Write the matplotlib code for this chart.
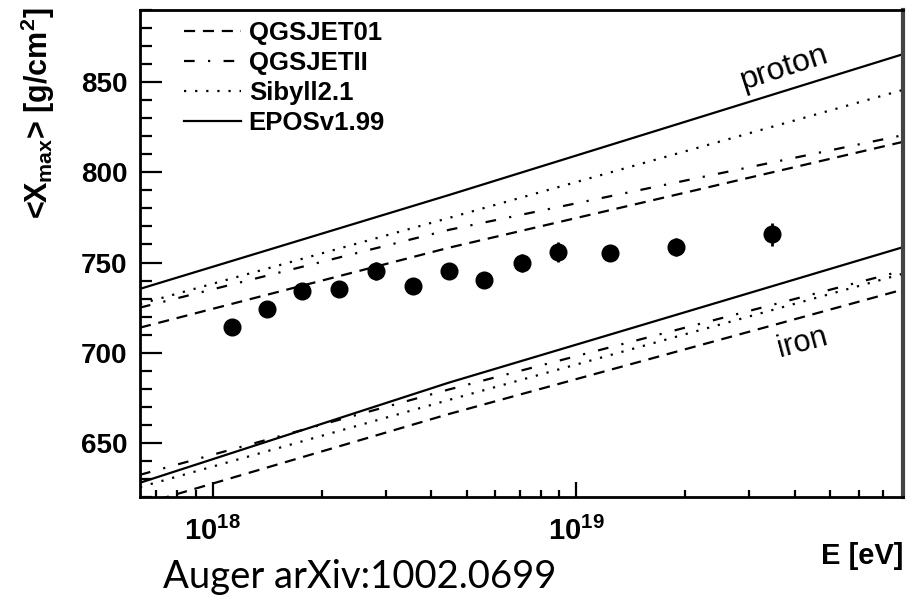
import numpy as np
import matplotlib
matplotlib.use("Agg")
import matplotlib.pyplot as plt
from matplotlib.ticker import FixedLocator, NullFormatter, MultipleLocator

plt.rcParams["mathtext.fontset"] = "custom"
plt.rcParams["mathtext.bf"] = "Liberation Sans:bold"
plt.rcParams["mathtext.rm"] = "Liberation Sans:bold"

# Measured <Xmax> versus energy
energy = [1.13e18, 1.41e18, 1.76e18, 2.23e18, 2.82e18, 3.55e18, 4.47e18,
          5.59e18, 7.08e18, 8.93e18, 1.24e19, 1.89e19, 3.47e19]
xmax = [714.2, 724.3, 734.2, 735.1, 745.3, 736.9, 745.3,
        740.5, 749.9, 755.8, 755.2, 758.5, 765.6]
xmax_err = [3, 3, 3, 3, 5, 3, 4, 4, 5, 5.5, 4, 5, 6.5]

# Model predictions, sampled at log10(E/eV) = 17.8, 18.65, 19.9
model_logE = [17.8, 18.65, 19.9]
models = ["QGSJET01", "QGSJETII", "Sibyll2.1", "EPOSv1.99"]
proton = {
    "QGSJET01": [713.9, 758.2, 816.9],
    "QGSJETII": [725.0, 768.1, 820.6],
    "Sibyll2.1": [727.0, 774.7, 845.7],
    "EPOSv1.99": [735.4, 787.4, 865.5],
}
iron = {
    "QGSJET01": [615.6, 666.0, 735.0],
    "QGSJETII": [632.3, 679.6, 745.5],
    "Sibyll2.1": [625.5, 673.8, 743.8],
    "EPOSv1.99": [627.9, 683.4, 758.5],
}
styles = {
    "QGSJET01": (0, (5, 3.5)),
    "QGSJETII": (0, (4.8, 6, 1, 6)),
    "Sibyll2.1": (0, (1, 4)),
    "EPOSv1.99": "-",
}

fam = ["Liberation Sans", "DejaVu Sans"]
bold = dict(family=fam, weight="bold")

fig = plt.figure(figsize=(9.07, 5.98), dpi=100)
ax = fig.add_axes([140 / 907, 1 - 497 / 598, (903 - 140) / 907, (497 - 10) / 598])
ax.set_xscale("log")
ax.set_xlim(10 ** 17.8, 10 ** 19.9)
ax.set_ylim(620, 890)

E_model = [10.0 ** v for v in model_logE]
handles = []
for m in models:
    (h,) = ax.plot(E_model, proton[m], color="black", lw=1.6, ls=styles[m], label=m)
    ax.plot(E_model, iron[m], color="black", lw=1.6, ls=styles[m])
    handles.append(h)

ax.errorbar(energy, xmax, yerr=xmax_err, fmt="o", color="black", ms=12,
            elinewidth=2, capsize=0, zorder=5)

ax.text(3.75e19, 858, "proton", rotation=18, ha="center", va="center",
        fontsize=23, family=fam)
ax.text(4.2e19, 705.5, "iron", rotation=15, ha="center", va="center",
        fontsize=22, family=fam)

leg = ax.legend(handles=handles, loc="upper left", bbox_to_anchor=(0.028, 1.025),
                frameon=False, handlelength=2.2, handletextpad=0.3,
                labelspacing=0.24, prop=dict(family="Liberation Sans", weight="bold", size=18.5))

# Axis ticks
ax.yaxis.set_major_locator(MultipleLocator(50))
ax.yaxis.set_minor_locator(MultipleLocator(10))
ax.xaxis.set_major_locator(FixedLocator([1e18, 1e19]))
minor_x = [k * 10.0 ** d for d in (17, 18, 19) for k in range(2, 10)]
ax.xaxis.set_minor_locator(FixedLocator(minor_x))
ax.xaxis.set_minor_formatter(NullFormatter())
ax.set_xticklabels([r"$\mathbf{10^{18}}$", r"$\mathbf{10^{19}}$"])

ax.tick_params(axis="y", which="major", direction="in", length=16, width=1.6,
               left=True, right=False, labelsize=20, pad=9)
ax.tick_params(axis="y", which="minor", direction="in", length=8.5, width=1.6,
               left=True, right=False)
ax.tick_params(axis="x", which="major", direction="in", length=11, width=1.6,
               bottom=True, top=False, labelsize=21, pad=14)
ax.tick_params(axis="x", which="minor", direction="in", length=5, width=1.6,
               bottom=True, top=False)
for lab in ax.get_yticklabels():
    lab.set_fontweight("bold")
    lab.set_family(fam)

for s in ax.spines.values():
    s.set_linewidth(2)
ax.spines["right"].set_color("#444444")
ax.spines["right"].set_linewidth(3)

fig.text(38 / 907, 1 - 8 / 598, r"<X$_{\mathbf{max}}$> [g/cm$^{\mathbf{2}}$]",
         rotation=90, ha="center", va="top", fontsize=22, **bold)
fig.text(903 / 907, 1 - 556 / 598, "E [eV]", ha="right", va="center",
         fontsize=21, **bold)
fig.text(163 / 907, 1 - 588 / 598, "Auger arXiv:1002.0699", ha="left",
         va="baseline", fontsize=27.5, family=["Lato", "DejaVu Sans"])

fig.savefig("out.png", dpi=100)
